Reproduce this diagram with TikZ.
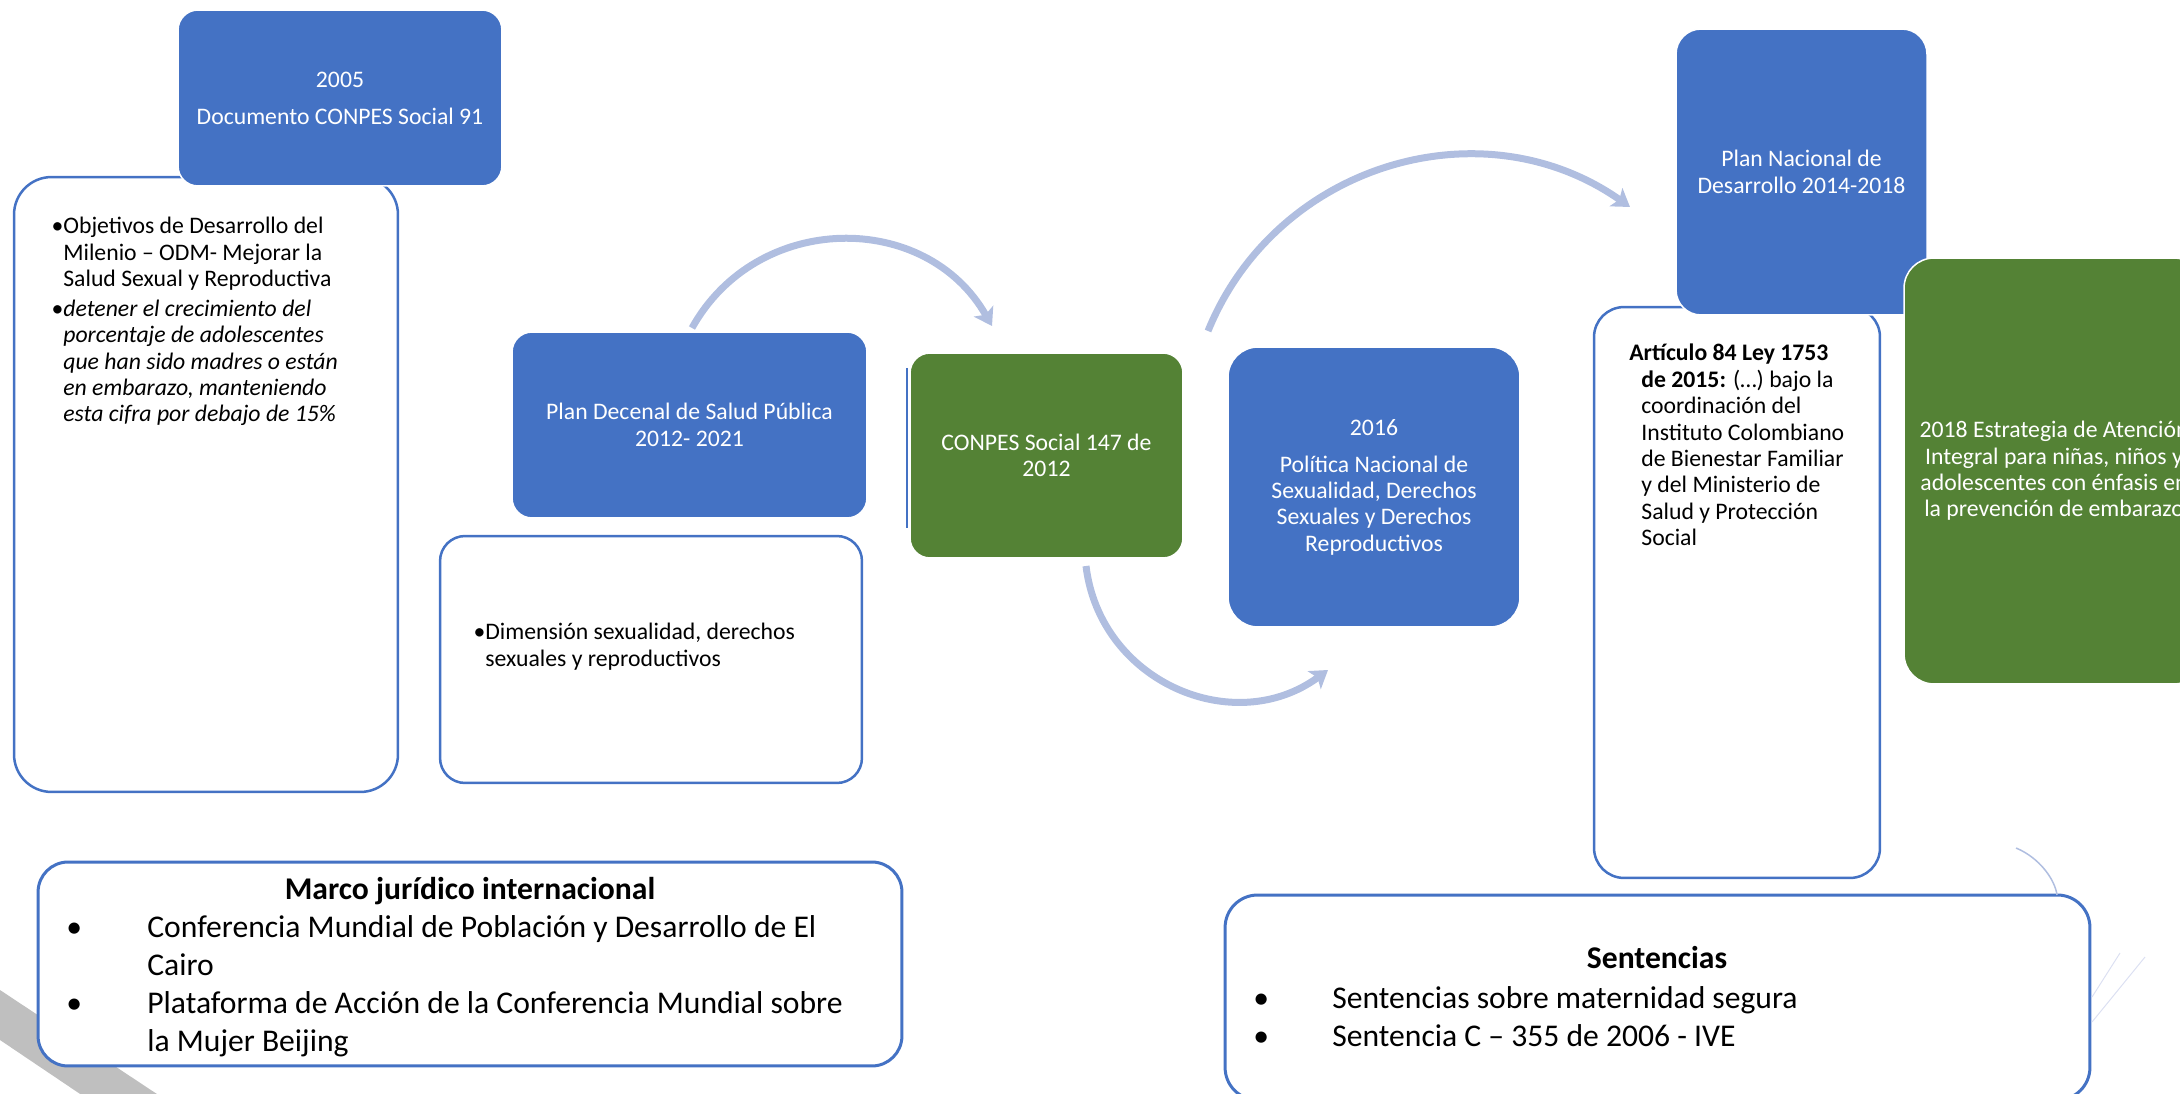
\documentclass[tikz,border=0pt]{standalone}
\usepackage{fontspec}
\setmainfont{Carlito}
\usetikzlibrary{arrows.meta,positioning}
\definecolor{boxblue}{HTML}{4472C4}
\definecolor{boxgreen}{HTML}{548235}
\definecolor{flowblue}{HTML}{B0BEE0}
\definecolor{bandgray}{HTML}{BFBFBF}
\definecolor{faintblue}{HTML}{DCE0F2}

\begin{document}
\begin{tikzpicture}[x=0.02cm, y=-0.02cm,
        bluebox/.style={rectangle, rounded corners=0.4cm, fill=boxblue, draw=white, line width=0.03cm, text=white, align=center, inner sep=0pt, font=\fontsize{13.5}{15}\selectfont},
        greenbox/.style={bluebox, fill=boxgreen},
        textbox/.style={rectangle, rounded corners=0.75cm, fill=white, draw=boxblue, line width=0.05cm, inner sep=0pt},
        sized/.style 2 args={minimum width=#1cm, minimum height=#2cm},
        body/.style={inner sep=0pt, align=left, font=\fontsize{13.5}{15}\selectfont},
        bigbody/.style={inner sep=0pt, align=left, font=\fontsize{18}{21.6}\selectfont},
        flow/.style={draw=flowblue, line width=0.14cm, -{Stealth[length=0.34cm, width=0.44cm, inset=0.08cm]}}]

            \path[use as bounding box, clip] (0, 0) rectangle (2180, 1094);

            \fill[bandgray] (0, 990) -- (172, 1104) -- (95, 1104) -- (0, 1040) -- cycle;

            \node (lbox) at (206, 484.5)[textbox, sized={7.68}{12.3}]{};
            \node (dbox) at (651, 659.5)[textbox, rounded corners=0.5cm, sized={8.44}{4.94}]{};
            \node (abox) at (1737, 592.5)[textbox, rounded corners=0.6cm, sized={5.72}{11.42}]{};
            \node (marco) at (470, 964)[textbox, line width=0.06cm, rounded corners=0.6cm, sized={17.28}{4.08}]{};
            \node (sent) at (1657.5, 997.5)[textbox, line width=0.06cm, rounded corners=0.65cm, sized={17.3}{4.1}]{};

            \draw[boxblue, line width=0.03cm] (907, 368) -- (907, 528);

            \node (b2005) at (340, 98)[bluebox, sized={6.48}{3.52}]{2005\\[6pt]Documento CONPES Social 91};
            \node (decenal) at (689.5, 425)[bluebox, sized={7.1}{3.72}]{Plan Decenal de Salud Pública\\2012- 2021};
            \node (conpes) at (1046.5, 455.5)[greenbox, sized={5.46}{4.1}]{CONPES Social 147 de\\2012};
            \node (b2016) at (1374, 487)[bluebox, rounded corners=0.6cm, sized={5.84}{5.6}]{2016\\[6pt]Política Nacional de\\Sexualidad, Derechos\\Sexuales y Derechos\\Reproductivos};
            \node (nacional) at (1801.5, 172)[bluebox, rounded corners=0.5cm, sized={5.02}{5.72}]{Plan Nacional de\\Desarrollo 2014-2018};
            \node (b2018) at (2054, 471)[greenbox, rounded corners=0.6cm, sized={6.0}{8.52}]{2018 Estrategia de Atención\\Integral para niñas, niños y\\adolescentes con énfasis en\\la prevención de embarazo};

            \node (lboxt) at (63, 217)[body, anchor=north west]{\llap{•}Objetivos de Desarrollo del\\Milenio – ODM- Mejorar la\\Salud Sexual y Reproductiva\\[2pt]\llap{•}\textit{detener el crecimiento del}\\\textit{porcentaje de adolescentes}\\\textit{que han sido madres o están}\\\textit{en embarazo, manteniendo}\\\textit{esta cifra por debajo de 15\%}};
            \node (dboxt) at (485, 623)[body, anchor=north west]{\llap{•}Dimensión sexualidad, derechos\\sexuales y reproductivos};
            \node (aboxt) at (1629, 344)[body, anchor=north west]{\textbf{Artículo 84 Ley 1753}\\\hspace{0.24cm}\textbf{de 2015:} (…) bajo la\\\hspace{0.24cm}coordinación del\\\hspace{0.24cm}Instituto Colombiano\\\hspace{0.24cm}de Bienestar Familiar\\\hspace{0.24cm}y del Ministerio de\\\hspace{0.24cm}Salud y Protección\\\hspace{0.24cm}Social};

            \node (marcot) at (470, 899)[bigbody, anchor=base, font=\fontsize{18}{21.6}\selectfont\bfseries]{Marco jurídico internacional};
            \node (marcol) at (66, 915)[bigbody, anchor=north west]{\makebox[1.62cm][l]{•}Conferencia Mundial de Población y Desarrollo de El\\\hspace{1.62cm}Cairo\\\makebox[1.62cm][l]{•}Plataforma de Acción de la Conferencia Mundial sobre\\\hspace{1.62cm}la Mujer Beijing};
            \node (sentt) at (1657, 968)[bigbody, anchor=base, font=\fontsize{18}{21.6}\selectfont\bfseries]{Sentencias};
            \node (sentl) at (1253, 986)[bigbody, anchor=north west]{\makebox[1.58cm][l]{•}Sentencias sobre maternidad segura\\\makebox[1.58cm][l]{•}Sentencia C – 355 de 2006 - IVE};

            \coordinate (a1s) at (692, 328);
            \coordinate (a1e) at (992, 326);
            \coordinate (a2s) at (1086, 566);
            \coordinate (a2e) at (1328, 670);
            \coordinate (a3s) at (1208, 331);
            \coordinate (a3e) at (1630, 207);
            \draw[flow] (a1s) .. controls +(65, -117) and +(-66, -116) .. (a1e);
            \draw[flow] (a2s) .. controls +(14, 116) and +(-94, 69) .. (a2e);
            \draw[flow] (a3s) .. controls +(68, -167) and +(-148, -104) .. (a3e);

            \coordinate (c1) at (2016, 848);
            \coordinate (c2) at (2057, 895);
            \draw[flowblue, line width=0.03cm] (c1) .. controls +(24, 10) and +(-2, -15) .. (c2);
            \draw[faintblue, line width=0.02cm] (2120, 953) -- (2092, 997);
            \draw[faintblue, line width=0.02cm] (2145, 957) -- (2092, 1022);

        \end{tikzpicture}
\end{document}
